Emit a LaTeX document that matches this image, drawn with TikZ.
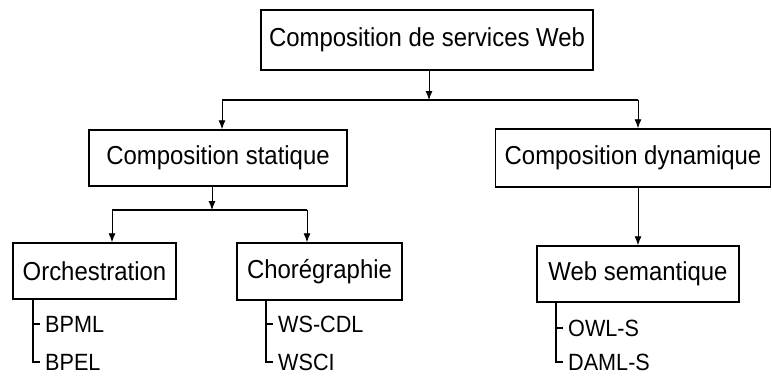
\documentclass[tikz,border=0pt]{standalone}
\usepackage{fontspec}
\usepackage{graphicx}
\setmainfont{Liberation Sans}
\usetikzlibrary{arrows.meta}
% slightly narrowed lettering for the box and list labels
\newcommand{\boxtext}[1]{\scalebox{0.92}[1]{\fontsize{26}{30}\selectfont #1}}
\newcommand{\leaftext}[1]{\scalebox{0.92}[1]{\fontsize{23.5}{27}\selectfont #1}}
\begin{document}
\begin{tikzpicture}[x=1pt,y=-1pt,
  box/.style={draw,line width=1.5pt,inner sep=0pt},
  leaf/.style={anchor=west,inner sep=0pt},
  arr/.style={line width=0.9pt,-{Latex[length=9pt,width=7pt]}},
  bus/.style={line width=1.5pt},
  tree/.style={line width=1.3pt}]
\useasboundingbox (0,0) rectangle (772,376);
% boxes
\node[box,minimum width=332pt,minimum height=60pt] (root) at (427,40) {\boxtext{Composition de services Web}};
\node[box,minimum width=258pt,minimum height=56pt] (stat) at (218,158) {\boxtext{Composition statique}};
\node[box,minimum width=275pt,minimum height=58pt] (dyn) at (633,158) {\boxtext{Composition dynamique}};
\node[box,minimum width=163pt,minimum height=56pt] (orch) at (94.5,271) {\boxtext{Orchestration}};
\node[box,minimum width=165pt,minimum height=57pt] (chor) at (319.5,271.5) {\boxtext{Chorégraphie}};
\node[box,minimum width=202pt,minimum height=56pt] (sem) at (638,274) {\boxtext{Web semantique}};
% junction points
\coordinate (j1) at (429,100);
\coordinate (j1l) at (222,100);
\coordinate (j1r) at (638,100);
\coordinate (j2) at (212,210);
\coordinate (j2l) at (112,210);
\coordinate (j2r) at (307,210);
% upper level
\draw[arr] (root.south -| j1) -- (j1);
\draw[bus] (j1l) -- (j1r);
\draw[arr] (j1l) -- (j1l |- stat.north);
\draw[arr] (j1r) -- (j1r |- dyn.north);
% static branch
\draw[arr] (stat.south -| j2) -- (j2);
\draw[bus] (j2l) -- (j2r);
\draw[arr] (j2l) -- (j2l |- orch.north);
\draw[arr] (j2r) -- (j2r |- chor.north);
% dynamic branch
\draw[arr] (dyn.south -| j1r) -- (j1r |- sem.north);
% leaf lists
\node[leaf] (bpml) at (45,324) {\leaftext{BPML}};
\node[leaf] (bpel) at (45,362) {\leaftext{BPEL}};
\node[leaf] (wscdl) at (278,324) {\leaftext{WS-CDL}};
\node[leaf] (wsci) at (278,362) {\leaftext{WSCI}};
\node[leaf] (owls) at (568,328) {\leaftext{OWL-S}};
\node[leaf] (damls) at (568,362) {\leaftext{DAML-S}};
\coordinate (ta) at (33,0);
\coordinate (tb) at (266,0);
\coordinate (tc) at (556,0);
\draw[tree] (orch.south -| ta) -- (ta |- bpel) -- ([xshift=-5pt]bpel.west);
\draw[tree] (ta |- bpml) -- ([xshift=-5pt]bpml.west);
\draw[tree] (chor.south -| tb) -- (tb |- wsci) -- ([xshift=-5pt]wsci.west);
\draw[tree] (tb |- wscdl) -- ([xshift=-5pt]wscdl.west);
\draw[tree] (sem.south -| tc) -- (tc |- damls) -- ([xshift=-5pt]damls.west);
\draw[tree] (tc |- owls) -- ([xshift=-5pt]owls.west);
\end{tikzpicture}
\end{document}
